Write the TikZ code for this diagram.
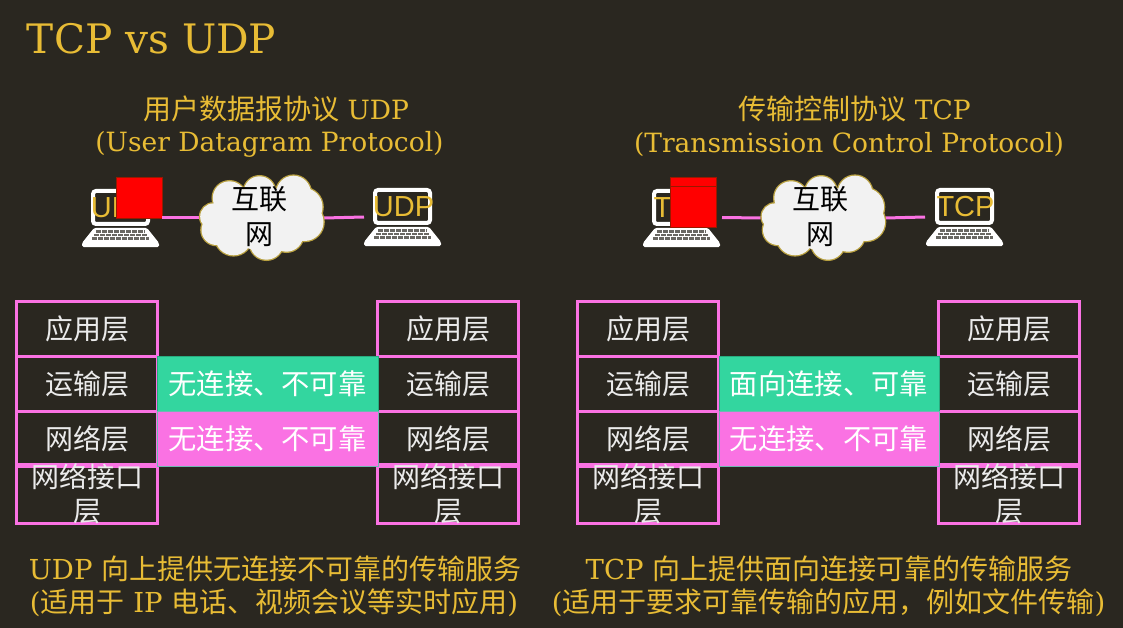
\documentclass[tikz,border=0pt]{standalone}
\usepackage{fontspec}
\setmainfont{DejaVu Serif}
\newfontfamily\cjk{Noto Sans CJK SC}
\newfontfamily\lapfont{Liberation Sans}
\usetikzlibrary{calc}
\definecolor{bgc}{HTML}{2A2720}
\definecolor{gold}{HTML}{E8BC35}
\definecolor{pinkc}{HTML}{FA72E3}
\definecolor{greenc}{HTML}{33D69F}
\definecolor{cloudf}{HTML}{F2F2F2}
\definecolor{cloude}{HTML}{B8A040}
\newcommand{\zh}[1]{{\cjk\fontsize{28}{34}\selectfont #1}}
\tikzset{
  x=1pt,y=-1pt,
  every node/.style={inner sep=0pt,outer sep=0pt},
  titletext/.style={text=gold,font=\fontsize{40.6}{41}\selectfont},
  goldtext/.style={text=gold,font=\fontsize{26.5}{34}\selectfont,align=center},
  captext/.style={text=gold,font=\fontsize{27.5}{34}\selectfont,align=center},
  layerbox/.style={draw=pinkc,line width=3pt,minimum width=141pt,minimum height=55pt,text=white!92!black,align=center,font=\cjk\fontsize{28}{33.5}\selectfont},
  svcgreen/.style={draw=greenc!80!black,line width=1pt,fill=greenc,minimum width=221pt,minimum height=55pt,text=white,font=\cjk\fontsize{28.3}{34}\selectfont},
  svcpink/.style={svcgreen,draw=greenc!70!pinkc,fill=pinkc},
  link/.style={draw=pinkc,line width=3pt},
  redbox/.style={draw=red!55!black!90!yellow,line width=1pt,fill=red,minimum width=46pt},
  cloudtext/.style={text=black,align=center,font=\cjk\fontsize{28}{35}\selectfont},
  screenbox/.style={draw=white,line width=4pt,rounded corners=3pt,minimum width=55pt,minimum height=33pt},
  laptop/.pic={
    \fill[white,rounded corners=1.5pt] (3,39) -- (56,39) -- (68,54) -- (68,58) -- (-9,58) -- (-9,54) -- cycle;
    \draw[bgc!70!white,line width=2.3pt,dash pattern=on 5pt off 1pt] (5,42.5) -- (54,42.5);
    \draw[bgc!70!white,line width=2.3pt,dash pattern=on 5pt off 1pt] (3,46) -- (56,46);
    \draw[bgc!70!white,line width=2.3pt,dash pattern=on 5pt off 1pt] (1,49.5) -- (58,49.5);
    \node[screenbox] (-scr) at (29.5,18.5) {};
    \node[text=gold,font=\lapfont\fontsize{29}{30}\selectfont] (-lab) at (30.5,18.5) {\tikzpictext};
  },
  cloudpic/.pic={
    \foreach \cx/\cy/\cr in {-48/-1.3/13.3,-32/-20/16.7,-2/-26/15.7,32/-25/17.3,42/-11/19,43/4/19,25/17/16.7,5/25/16.7,-28/19/18.3,-45/12/15}{
      \draw[draw=cloude,line width=2.6pt] (\cx,\cy) circle[radius=\cr];
    }
    \foreach \cx/\cy/\cr in {-48/-1.3/13.3,-32/-20/16.7,-2/-26/15.7,32/-25/17.3,42/-11/19,43/4/19,25/17/16.7,5/25/16.7,-28/19/18.3,-45/12/15,0/0/33,-22/0/25,22/0/25}{
      \fill[cloudf] (\cx,\cy) circle[radius=\cr];
    }
  },
}
\begin{document}
\begin{tikzpicture}
\useasboundingbox[fill=bgc] (0,0) rectangle (1123,628);

\node[titletext,anchor=west] (title) at (27,39) {TCP vs UDP};

% headers
\node[goldtext] (hA1) at (276,109) {\zh{用户数据报协议} UDP};
\node[goldtext] (hA2) at (269.5,144) {(User Datagram Protocol)};
\node[goldtext] (hB1) at (854.5,109) {\zh{传输控制协议} TCP};
\node[goldtext] (hB2) at (849,144) {(Transmission Control Protocol)};

% laptops
\pic[pic text=UDP] (lapA) at (91,189) {laptop};
\pic[pic text=UDP] (lapB) at (373,188) {laptop};
\pic[pic text=TCP] (lapC) at (652,189) {laptop};
\pic[pic text=TCP] (lapD) at (935,188) {laptop};

% cloud anchors
\node[minimum width=125pt,minimum height=84pt] (cloudA) at (261.5,218) {};
\node[minimum width=125pt,minimum height=84pt] (cloudB) at (823,218) {};

% red squares
\node[redbox,minimum height=41pt] (redA) at (139,198.5) {};
\node[redbox,minimum height=50pt] (redB) at (693,203) {};
\node[redbox,minimum height=9pt] (redBtop) at (693,182.5) {};

% links
\coordinate (pA) at (364,217);
\coordinate (pB) at (722,217.5);
\coordinate (pC) at (925,217);
\draw[link] (redA.east |- cloudA.west) -- (cloudA.west);
\draw[link] (cloudA.east) -- (pA);
\draw[link] (pB) -- (cloudB.west);
\draw[link] (cloudB.east) -- (pC);

% clouds
\pic at (cloudA.center) {cloudpic};
\pic at (cloudB.center) {cloudpic};
\node[cloudtext] (ctA) at (259,217) {互联\\网};
\node[cloudtext] (ctB) at (820,217) {互联\\网};

% stacks
\foreach \pre/\x in {a/87,b/448,c/648,d/1009}{
  \node[layerbox] (\pre1) at (\x,329) {应用层};
  \node[layerbox] (\pre2) at (\x,384) {运输层};
  \node[layerbox] (\pre3) at (\x,439) {网络层};
  \node[layerbox] (\pre4) at (\x,494) {网络接口\\层};
}
\node[svcgreen] (sA1) at (267.5,383.5) {无连接、不可靠};
\node[svcpink]  (sA2) at (267.5,438.5) {无连接、不可靠};
\node[svcgreen,minimum width=220pt] (sB1) at (829,383.5) {面向连接、可靠};
\node[svcpink,minimum width=220pt]  (sB2) at (829,438.5) {无连接、不可靠};

% captions
\node[captext] (fA1) at (275,569) {UDP \zh{向上提供无连接不可靠的传输服务}};
\node[captext] (fA2) at (274,603) {(\zh{适用于} IP \zh{电话、视频会议等实时应用})};
\node[captext] (fB1) at (829,569) {TCP \zh{向上提供面向连接可靠的传输服务}};
\node[captext] (fB2) at (828.5,603) {(\zh{适用于要求可靠传输的应用，例如文件传输})};
\end{tikzpicture}
\end{document}
